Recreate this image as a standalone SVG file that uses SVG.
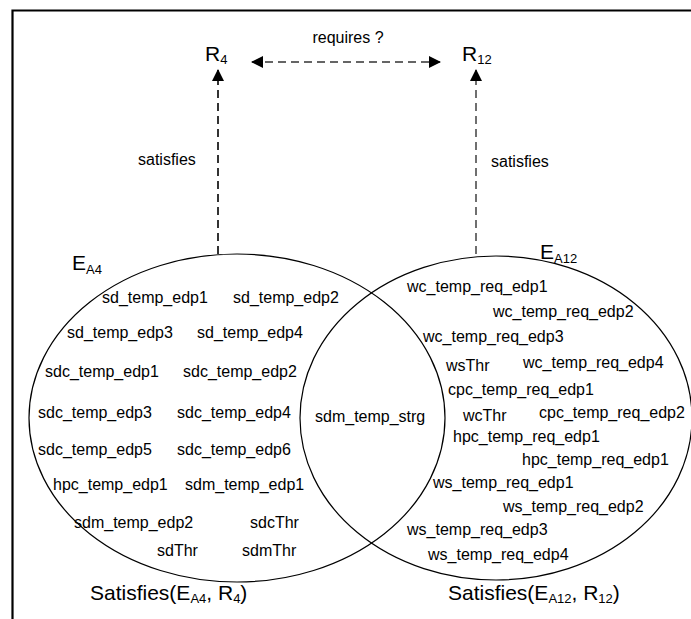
<svg xmlns="http://www.w3.org/2000/svg" width="691" height="619" viewBox="0 0 691 619">
  <style>
    text { font-family: "Liberation Sans", Arial, sans-serif; fill: #000; }
    .item { font-size: 16px; }
    .big { font-size: 21px; }
    .sub { font-size: 13px; }
    .set { fill: none; stroke: #000; stroke-width: 1.2; }
    .dash { fill: none; stroke: #333; stroke-dasharray: 8 5; }
    .frame { fill: none; stroke: #000; stroke-width: 2.2; }
  </style>
  <defs>
    <marker id="head" viewBox="0 0 12 12" refX="11" refY="6" markerWidth="12" markerHeight="12" markerUnits="userSpaceOnUse" orient="auto-start-reverse">
      <path d="M0,0 L12,6 L0,12 Z" fill="#000"/>
    </marker>
  </defs>

  <!-- frame -->
  <g id="frame">
    <path class="frame" d="M12.5,619 L12.5,10.5 L691,10.5"/>
  </g>

  <!-- requirements -->
  <g id="R4">
    <text class="big" x="205" y="61">R<tspan class="sub" dy="3">4</tspan></text>
  </g>
  <g id="R12">
    <text class="big" x="462" y="61">R<tspan class="sub" dy="3">12</tspan></text>
  </g>

  <!-- connectors -->
  <g id="connectors">
    <line class="dash" x1="252" y1="62" x2="440" y2="62" stroke-width="1.6" stroke-dasharray="7 6" marker-start="url(#head)" marker-end="url(#head)"/>
    <text class="item" x="348" y="43" text-anchor="middle">requires ?</text>
    <line class="dash" x1="218" y1="254" x2="218" y2="70" stroke-width="2" marker-end="url(#head)"/>
    <text class="item" x="138" y="165">satisfies</text>
    <line class="dash" x1="476" y1="254" x2="476" y2="70" stroke-width="1.4" marker-end="url(#head)"/>
    <text class="item" x="491" y="167">satisfies</text>
  </g>

  <!-- entity set EA4 -->
  <g id="EA4">
    <ellipse class="set" cx="237" cy="418" rx="208" ry="164"/>
    <text class="big" x="72" y="270">E<tspan class="sub" dy="4">A4</tspan></text>
    <text class="item" x="102" y="303">sd_temp_edp1</text>
    <text class="item" x="233" y="303">sd_temp_edp2</text>
    <text class="item" x="67" y="338">sd_temp_edp3</text>
    <text class="item" x="197" y="338">sd_temp_edp4</text>
    <text class="item" x="45" y="377">sdc_temp_edp1</text>
    <text class="item" x="183" y="377">sdc_temp_edp2</text>
    <text class="item" x="38" y="418">sdc_temp_edp3</text>
    <text class="item" x="177" y="418">sdc_temp_edp4</text>
    <text class="item" x="38" y="455">sdc_temp_edp5</text>
    <text class="item" x="177" y="455">sdc_temp_edp6</text>
    <text class="item" x="53" y="490">hpc_temp_edp1</text>
    <text class="item" x="185" y="490">sdm_temp_edp1</text>
    <text class="item" x="74" y="528">sdm_temp_edp2</text>
    <text class="item" x="250" y="528">sdcThr</text>
    <text class="item" x="157" y="556">sdThr</text>
    <text class="item" x="242" y="556">sdmThr</text>
    <text class="big" x="90" y="600">Satisfies(E<tspan class="sub" dy="3">A4</tspan><tspan dy="-3">, R</tspan><tspan class="sub" dy="3">4</tspan><tspan dy="-3">)</tspan></text>
  </g>

  <!-- shared element -->
  <g id="shared">
    <text class="item" x="315" y="422">sdm_temp_strg</text>
  </g>

  <!-- entity set EA12 -->
  <g id="EA12">
    <ellipse class="set" cx="496" cy="418" rx="196" ry="162"/>
    <text class="big" x="540" y="259">E<tspan class="sub" dy="4">A12</tspan></text>
    <text class="item" x="407" y="292">wc_temp_req_edp1</text>
    <text class="item" x="493" y="317">wc_temp_req_edp2</text>
    <text class="item" x="423" y="342">wc_temp_req_edp3</text>
    <text class="item" x="446" y="371">wsThr</text>
    <text class="item" x="523" y="368">wc_temp_req_edp4</text>
    <text class="item" x="448" y="395">cpc_temp_req_edp1</text>
    <text class="item" x="463" y="421">wcThr</text>
    <text class="item" x="539" y="418">cpc_temp_req_edp2</text>
    <text class="item" x="453" y="442">hpc_temp_req_edp1</text>
    <text class="item" x="522" y="465">hpc_temp_req_edp1</text>
    <text class="item" x="433" y="488">ws_temp_req_edp1</text>
    <text class="item" x="503" y="512">ws_temp_req_edp2</text>
    <text class="item" x="407" y="535">ws_temp_req_edp3</text>
    <text class="item" x="428" y="560">ws_temp_req_edp4</text>
    <text class="big" x="448" y="600">Satisfies(E<tspan class="sub" dy="3">A12</tspan><tspan dy="-3">, R</tspan><tspan class="sub" dy="3">12</tspan><tspan dy="-3">)</tspan></text>
  </g>
</svg>
